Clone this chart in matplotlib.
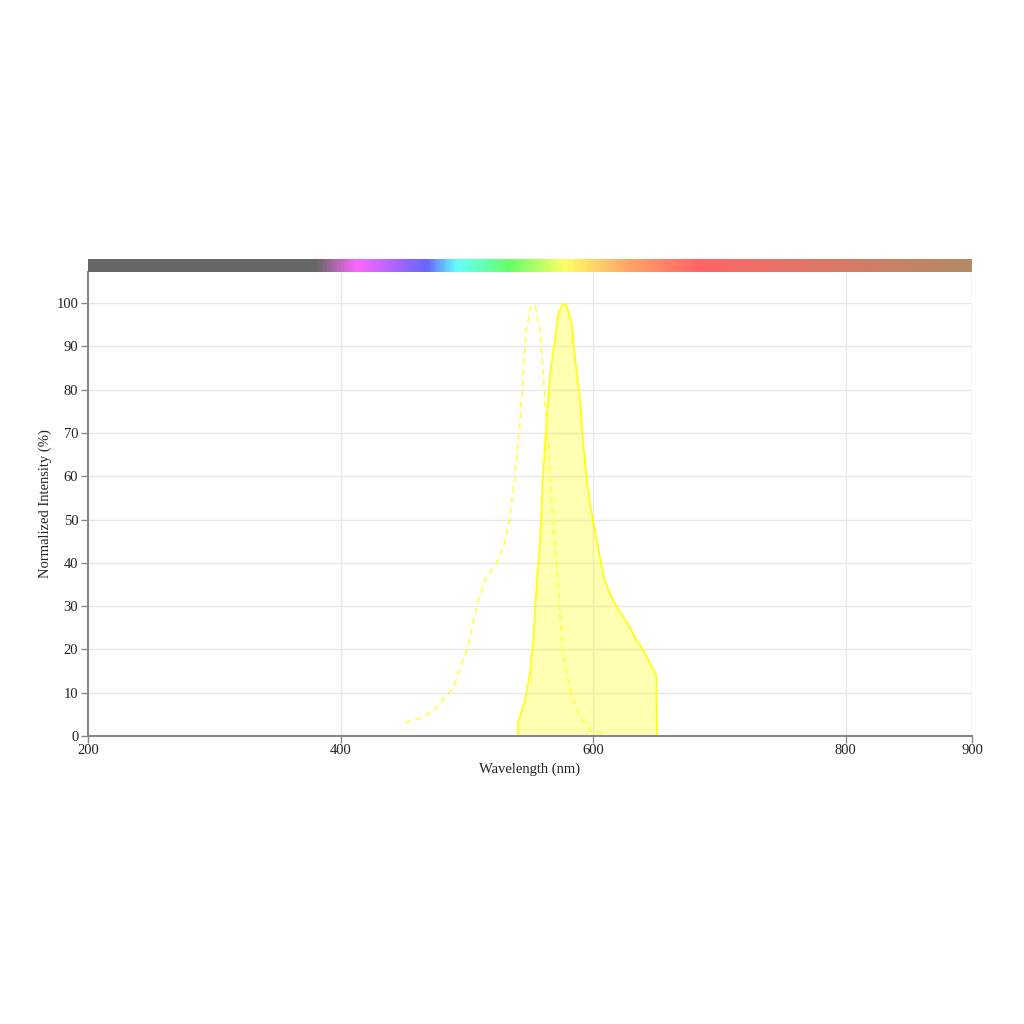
import numpy as np
import matplotlib
matplotlib.use("Agg")
import matplotlib.pyplot as plt
from matplotlib.colors import LinearSegmentedColormap

plt.rcParams['font.family'] = ['Liberation Serif', 'DejaVu Serif']

# excitation (dashed)
ex_wl = [451, 464, 473.5, 489, 500, 508, 514, 523.5, 530, 534, 538, 542, 544.6, 547,
         551, 554, 558, 560.5, 563, 566, 568.6, 572.6, 575, 579, 583, 589.6, 597.5, 608]
ex_val = [3.1, 4.2, 5.8, 11, 19.9, 29.9, 36, 39.9, 44.5, 50.6, 59.9, 72.2, 83.8, 93.8,
          99.5, 99.5, 93.8, 83.8, 72.2, 59.9, 47.6, 33.7, 22.2, 14.5, 9.1, 4.5, 1.4, 0.4]

# emission (filled)
em_wl = [540.7, 546, 550, 552.6, 555, 558, 560.5, 563, 566, 569.8, 572.4, 576.3, 579,
         583, 585.6, 589.6, 592, 594.8, 597.5, 601.4, 605.4, 609, 613.3, 618.5, 623.8,
         629, 633, 639.6, 645, 650, 650.5]
em_val = [3.1, 8.3, 14.5, 22.2, 33.7, 45.3, 60.7, 72.2, 83.8, 91.5, 97.6, 99.9, 99.5,
          95.3, 87.6, 77.6, 68.4, 59.9, 53.7, 47.6, 41.4, 36, 33, 29.9, 27.6,
          25.2, 22.9, 19.9, 16.8, 14.1, 0]

# spectrum bar stops
bar_wl = [200, 380, 412, 468, 492, 534, 578, 630, 684, 900]
bar_col = ['#666666', '#666666', '#ff66ff', '#6666ff', '#66ffff', '#66ff66',
           '#ffff66', '#ffa266', '#ff6666', '#b38b66']

fig = plt.figure(figsize=(10.24, 10.24), dpi=100)
ax = fig.add_axes([88/1024, 1-736/1024, 884/1024, 464/1024])

ax.fill_between(em_wl, em_val, 0, color='#ffff00', alpha=0.3, lw=0)
ax.plot(em_wl, em_val, color='#ffff00', lw=1.2)
ax.plot([em_wl[0], em_wl[0]], [0, em_val[0]], color='#ffff00', lw=1.2)
ax.plot(ex_wl, ex_val, color='#ffff33', lw=1.1, ls=(0, (4, 3)))

ax.set_xlim(200, 900)
ax.set_ylim(0, 107.2)
ax.set_xticks([200, 400, 600, 800, 900])
ax.set_yticks(range(0, 101, 10))
ax.grid(True, color='#e8e8e8', lw=1)
ax.set_axisbelow(True)
for s in ['top', 'right']:
    ax.spines[s].set_visible(False)
for s in ['left', 'bottom']:
    ax.spines[s].set_color('#888888')
    ax.spines[s].set_linewidth(1.5)
ax.axvline(900, color='#e8e8e8', lw=1, zorder=0)
ax.tick_params(colors='#888888', labelcolor='#222222', labelsize=10.5, length=5, width=1)
ax.tick_params(axis='x', pad=1)
ax.tick_params(axis='y', pad=2)
ax.set_xlabel('Wavelength (nm)', fontsize=10.5, color='#222222', labelpad=4)
ax.set_ylabel('Normalized Intensity (%)', fontsize=10.5, color='#222222', labelpad=3)

# spectrum color bar
bax = fig.add_axes([88/1024, 1-272/1024, 884/1024, 13/1024])
pos = [(w - 200) / 700 for w in bar_wl]
cmap = LinearSegmentedColormap.from_list('spec', list(zip(pos, bar_col)))
grad = np.linspace(0, 1, 700).reshape(1, -1)
bax.imshow(grad, aspect='auto', cmap=cmap, extent=[200, 900, 0, 1])
bax.set_axis_off()

fig.savefig('out.png', dpi=100)
